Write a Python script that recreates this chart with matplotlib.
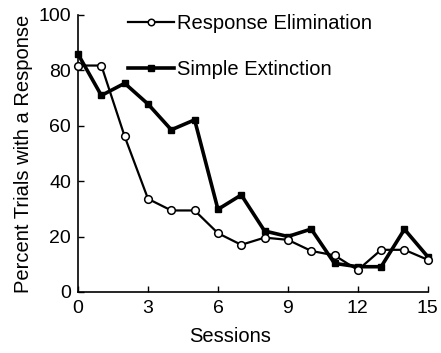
import matplotlib
matplotlib.use("Agg")
import matplotlib.pyplot as plt

sessions = list(range(16))
response_elimination = [81.7, 81.7, 56.1, 33.6, 29.4, 29.4, 21.2, 17.0, 19.6, 18.8, 14.8, 13.2, 7.9, 15.2, 15.2, 11.6]
simple_extinction = [85.8, 70.9, 75.3, 67.8, 58.5, 62.1, 29.8, 35.0, 22.0, 20.0, 22.7, 10.3, 9.1, 9.1, 22.6, 12.7]
xticks = [0, 3, 6, 9, 12, 15]
yticks = [0, 20, 40, 60, 80, 100]

plt.rcParams['font.family'] = ['Liberation Sans', 'DejaVu Sans']
fs = 14.5
tfs = 14

fig = plt.figure(figsize=(4.41, 3.53), dpi=100)
ax = fig.add_axes([0.177, 0.173, 0.793, 0.785])

ax.plot(sessions, response_elimination, color='black', lw=1.6, marker='o', ms=5.5,
        mfc='white', mec='black', mew=1.1, label='Response Elimination', clip_on=False, zorder=3)
ax.plot(sessions, simple_extinction, color='black', lw=2.6, marker='s', ms=4.5,
        mfc='black', mec='black', label='Simple Extinction', clip_on=False, zorder=2)

ax.set_xlim(0, 15)
ax.set_ylim(0, 100)
ax.set_xticks(xticks)
ax.set_yticks(yticks)
ax.tick_params(direction='in', length=4, width=1, labelsize=tfs)
ax.tick_params(axis='x', pad=5.5)
ax.tick_params(axis='y', pad=5)
for s in ['top', 'right']:
    ax.spines[s].set_visible(False)
for s in ['left', 'bottom']:
    ax.spines[s].set_linewidth(1.2)

ax.set_xlabel('Sessions', fontsize=fs, labelpad=6)
ax.xaxis.set_label_coords(0.434, -0.125)
ax.set_ylabel('Percent Trials with a Response', fontsize=fs, labelpad=4)

ax.legend(loc='upper left', bbox_to_anchor=(0.09, 1.068), frameon=False, fontsize=fs,
          handlelength=2.3, handletextpad=0.15, labelspacing=1.35, markerscale=0.85)

fig.savefig('out.png', dpi=100)
